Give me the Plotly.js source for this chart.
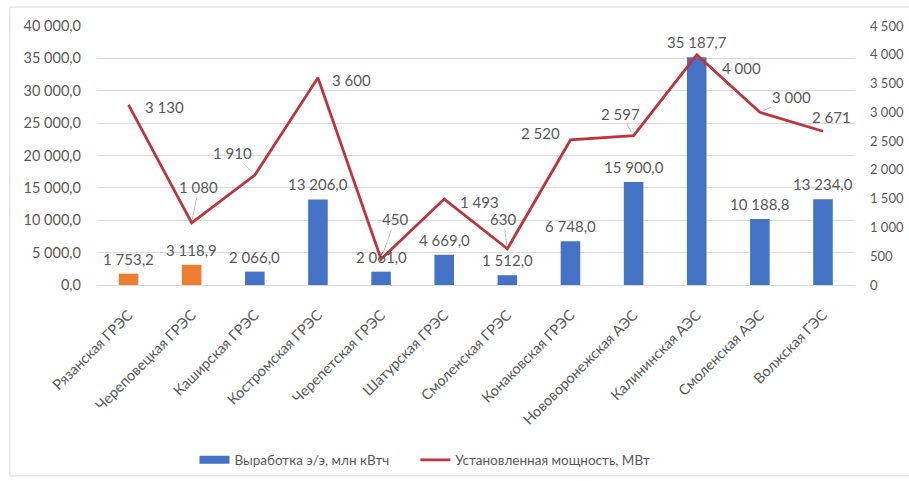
<!DOCTYPE html>
<html>
<head>
<meta charset="utf-8">
<script src="https://cdn.plot.ly/plotly-3.0.1.min.js"></script>
<style>
html,body{margin:0;padding:0;background:#fff;}
#chart{width:909px;height:481px;}
</style>
</head>
<body>
<div id="chart"></div>
<script>
const categories = ["Рязанская ГРЭС","Череповецкая ГРЭС","Каширская ГРЭС","Костромская ГРЭС","Черепетская ГРЭС","Шатурская ГРЭС","Смоленская ГРЭС","Конаковская ГРЭС","Нововоронежская АЭС","Калининская АЭС","Смоленская АЭС","Волжская ГЭС"];
const generation = [1753.2, 3118.9, 2066.0, 13206.0, 2061.0, 4669.0, 1512.0, 6748.0, 15900.0, 35187.7, 10188.8, 13234.0];
const capacity = [3130, 1080, 1910, 3600, 450, 1493, 630, 2520, 2597, 4000, 3000, 2671];
const orangeCategories = ["Рязанская ГРЭС","Череповецкая ГРЭС"];
const generationLabels = ["1 753,2","3 118,9","2 066,0","13 206,0","2 061,0","4 669,0","1 512,0","6 748,0","15 900,0","35 187,7","10 188,8","13 234,0"];
const capacityLabels = ["3 130","1 080","1 910","3 600","450","1 493","630","2 520","2 597","4 000","3 000","2 671"];
const leftTicks = [0,5000,10000,15000,20000,25000,30000,35000,40000];
const leftTickText = ["0,0","5 000,0","10 000,0","15 000,0","20 000,0","25 000,0","30 000,0","35 000,0","40 000,0"];
const rightTicks = [0,500,1000,1500,2000,2500,3000,3500,4000,4500];
const rightTickText = ["0","500","1 000","1 500","2 000","2 500","3 000","3 500","4 000","4 500"];

// label placement offsets (px) for the line labels: [dx, dy (positive = below), leader line]
const capLabelPos = [
  [36, 2, false],
  [7, -36, true],
  [-22, -22, true],
  [34, 2, false],
  [14, -40, true],
  [35, 3, false],
  [-4, -30, true],
  [-30, -7, false],
  [-13, -22, true],
  [45, 13, false],
  [32, -15, true],
  [8, -14, false]
];

const FONT = "Lato, 'Open Sans', sans-serif";
const GREY = "#595959";
const BLUE = "#4472C4";
const ORANGE = "#ED7D31";
const RED = "#C0333C";

const blueX = [], blueY = [], orX = [], orY = [];
categories.forEach((c,i)=>{
  if (orangeCategories.includes(c)) { orX.push(c); orY.push(generation[i]); }
  else { blueX.push(c); blueY.push(generation[i]); }
});

const traces = [
  {type:'bar', x: blueX, y: blueY, name:'Выработка э/э, млн кВтч', marker:{color:BLUE}, yaxis:'y', showlegend:false},
  {type:'bar', x: orX, y: orY, name:'Выработка (ТЭС)', marker:{color:ORANGE}, yaxis:'y', showlegend:false},
  // legend-only swatch for the bar series (wide rectangle as in the original)
  {type:'scatter', mode:'lines', x:[null], y:[null], name:'Выработка э/э, млн кВтч', line:{color:BLUE, width:8}, yaxis:'y', hoverinfo:'skip', legend:'legend'},
  {type:'scatter', mode:'lines', x: categories, y: capacity, name:'Установленная мощность, МВт', line:{color:RED, width:2.8}, yaxis:'y2', legend:'legend2'}
];

const annotations = [];
categories.forEach((c,i)=>{
  annotations.push({x:c, y:generation[i], xref:'x', yref:'y', text:generationLabels[i], showarrow:false, yanchor:'bottom', yshift:4, font:{family:FONT, size:15, color:GREY}});
});
categories.forEach((c,i)=>{
  const p = capLabelPos[i];
  if (p[2]) {
    annotations.push({x:c, y:capacity[i], xref:'x', yref:'y2', text:capacityLabels[i], showarrow:true, arrowhead:0, arrowwidth:1, arrowcolor:'#BFBFBF', ax:p[0], ay:p[1], standoff:4, font:{family:FONT, size:15, color:GREY}});
  } else {
    annotations.push({x:c, y:capacity[i], xref:'x', yref:'y2', text:capacityLabels[i], showarrow:false, xshift:p[0], yshift:-p[1], font:{family:FONT, size:15, color:GREY}});
  }
});

const legendStyle = {orientation:'h', xanchor:'left', y:-0.676, yanchor:'middle', font:{family:FONT, size:13.5, color:GREY}, bgcolor:'rgba(0,0,0,0)'};

const layout = {
  width:909, height:481,
  margin:{l:97, r:54, t:26, b:196, autoexpand:false},
  paper_bgcolor:'#fff', plot_bgcolor:'#fff',
  font:{family:FONT, size:13, color:GREY},
  barmode:'overlay',
  bargap:0.69,
  showlegend:true,
  legend:Object.assign({x:0.1286}, legendStyle),
  legend2:Object.assign({x:0.420}, legendStyle),
  xaxis:{type:'category', categoryorder:'array', categoryarray:categories, tickangle:-45, showgrid:false, showline:true, linecolor:'#D9D9D9', ticks:'', ticklabelstandoff:15, tickfont:{family:FONT, size:14.5, color:GREY}, fixedrange:true, automargin:false},
  yaxis:{range:[0,40000], tickvals:leftTicks, ticktext:leftTickText, showgrid:true, gridcolor:'#D9D9D9', zeroline:false, ticks:'', ticklabelstandoff:15, tickfont:{family:FONT, size:14.5, color:GREY}, fixedrange:true, automargin:false},
  yaxis2:{range:[0,4500], tickvals:rightTicks, ticktext:rightTickText, overlaying:'y', side:'right', showgrid:false, zeroline:false, ticks:'', ticklabelstandoff:14, tickfont:{family:FONT, size:13, color:GREY}, fixedrange:true, automargin:false},
  annotations: annotations,
  shapes:[{type:'rect', xref:'paper', yref:'paper', x0:-0.115, x1:1.08, y0:-0.737, y1:1.073, line:{color:'#D9D9D9', width:1}, fillcolor:'rgba(0,0,0,0)', layer:'below'}]
};

Plotly.newPlot('chart', traces, layout, {displayModeBar:false, staticPlot:true});
</script>
</body>
</html>
